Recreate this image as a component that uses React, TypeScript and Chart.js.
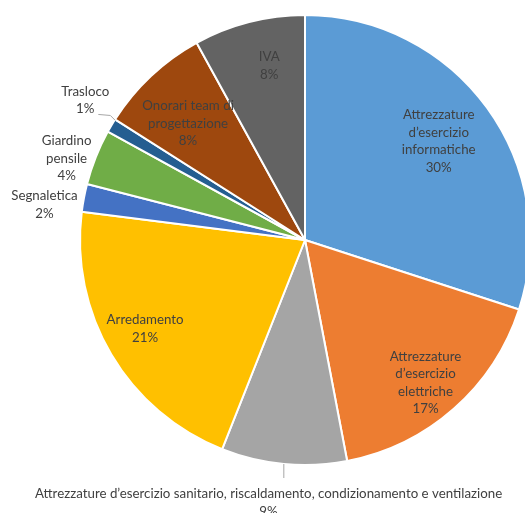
import React, { useEffect, useRef } from "react";
import { Chart, registerables } from "chart.js";

Chart.register(...registerables);

const categories = [
  "Attrezzature d’esercizio informatiche",
  "Attrezzature d’esercizio elettriche",
  "Attrezzature d’esercizio sanitario, riscaldamento, condizionamento e ventilazione",
  "Arredamento",
  "Segnaletica",
  "Giardino pensile",
  "Trasloco",
  "Onorari team di progettazione",
  "IVA",
];
const values = [30, 17, 9, 21, 2, 4, 1, 8, 8];
const colors = [
  "#5B9BD5",
  "#ED7D31",
  "#A5A5A5",
  "#FFC000",
  "#4472C4",
  "#70AD47",
  "#255E91",
  "#9E480E",
  "#636363",
];

// label line breaks (display only)
const labelLines = [
  ["Attrezzature", "d’esercizio", "informatiche"],
  ["Attrezzature", "d’esercizio", "elettriche"],
  ["Attrezzature d’esercizio sanitario, riscaldamento, condizionamento e ventilazione"],
  ["Arredamento"],
  ["Segnaletica"],
  ["Giardino", "pensile"],
  ["Trasloco"],
  ["Onorari team di", "progettazione"],
  ["IVA"],
];

// label placement: radius factor, pixel shift, leader line
const labelPlace = [
  { r: 0.74, dx: -1, dy: -1, leader: false },
  { r: 0.81, dx: 0, dy: 6, leader: false },
  { r: 1.155, dx: -12, dy: 4, leader: true },
  { r: 0.81, dx: -3, dy: -4, leader: false },
  { r: 1.17, dx: -2, dy: 14, leader: false },
  { r: 1.13, dx: -2, dy: 12, leader: false },
  { r: 1.15, dx: 3, dy: -8, leader: true },
  { r: 0.74, dx: -3, dy: 5, leader: false },
  { r: 0.8, dx: 9, dy: 0, leader: false },
];

const FONT = "13.3px Lato";
const LINE_H = 17.5;

const labelPlugin = {
  id: "sliceLabels",
  afterDatasetsDraw(chart: any) {
    const ctx = chart.ctx;
    const meta = chart.getDatasetMeta(0);
    const data = chart.data.datasets[0].data as number[];
    const total = data.reduce((a, b) => a + b, 0);
    ctx.save();
    ctx.font = FONT;
    ctx.fillStyle = "#404040";
    ctx.textAlign = "center";
    ctx.textBaseline = "middle";
    meta.data.forEach((arc: any, i: number) => {
      const { x, y, startAngle, endAngle, outerRadius } = arc.getProps(
        ["x", "y", "startAngle", "endAngle", "outerRadius"],
        true
      );
      const mid = (startAngle + endAngle) / 2;
      const cx = Math.cos(mid);
      const cy = Math.sin(mid);
      const p = labelPlace[i];
      const lines = [...labelLines[i], Math.round((data[i] / total) * 100) + "%"];
      const lx = x + cx * outerRadius * p.r + p.dx;
      const ly = y + cy * outerRadius * p.r + p.dy;
      const top = ly - ((lines.length - 1) * LINE_H) / 2;
      lines.forEach((t, k) => ctx.fillText(t, lx, top + k * LINE_H));
      if (p.leader) {
        ctx.strokeStyle = "#A6A6A6";
        ctx.lineWidth = 1;
        ctx.beginPath();
        const ex = x + cx * outerRadius * 1.0;
        const ey = y + cy * outerRadius * 1.0;
        if (i === 2) {
          ctx.moveTo(ex, ey);
          ctx.lineTo(ex, ey + 14);
        } else {
          ctx.moveTo(ex + 4, ey - 5);
          ctx.lineTo(ex - 1, ey - 10);
          ctx.lineTo(ex - 13, ey - 11);
        }
        ctx.stroke();
      }
    });
    ctx.restore();
  },
};

export default function App() {
  const ref = useRef<HTMLCanvasElement>(null);
  useEffect(() => {
    if (!ref.current) return;
    const chart = new Chart(ref.current, {
      type: "pie",
      data: {
        labels: categories,
        datasets: [
          {
            data: values,
            backgroundColor: colors,
            borderColor: "#FFFFFF",
            borderWidth: 2,
          },
        ],
      },
      options: {
        animation: false,
        responsive: false,
        maintainAspectRatio: false,
        layout: { padding: { top: 14, left: 14, right: 14, bottom: 74 } },
        plugins: {
          legend: { display: false },
          tooltip: { enabled: false },
        },
      },
      plugins: [labelPlugin],
    });
    return () => chart.destroy();
  }, []);
  return (
    <div
      style={{
        position: "absolute",
        left: 0,
        top: 0,
        width: 525,
        height: 513,
        overflow: "hidden",
        background: "#fff",
      }}
    >
      <canvas ref={ref} width={610} height={540} style={{ width: 610, height: 540 }} />
    </div>
  );
}
